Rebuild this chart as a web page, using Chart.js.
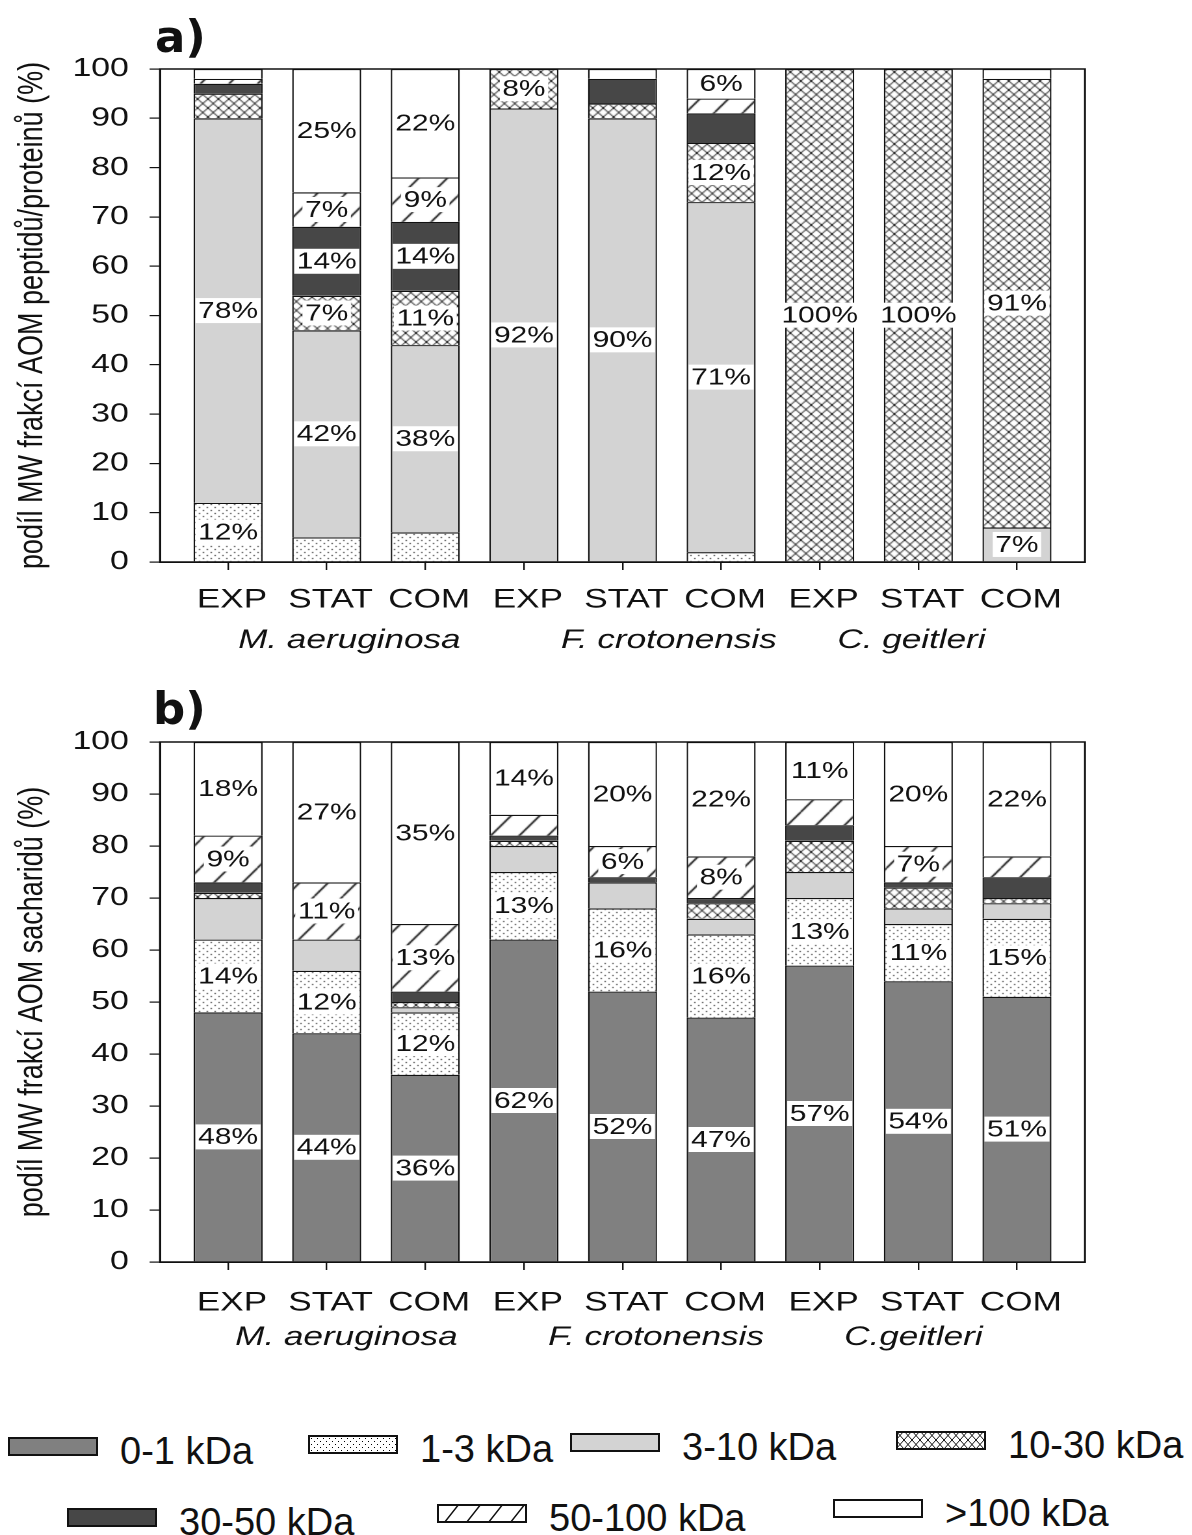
<!DOCTYPE html>
<html>
<head>
<meta charset="utf-8">
<script src="https://cdn.jsdelivr.net/npm/chart.js@4.4.1/dist/chart.umd.min.js"></script>
<style>
  body { margin: 0; background: #fff; width: 1192px; height: 1535px; position: relative; overflow: hidden; }
  .stretch { position: absolute; left: 0; width: 917px; transform: scaleX(1.3); transform-origin: 0 0; }
  .panel { position: absolute; font: bold 45px "DejaVu Sans", sans-serif; line-height: 45px; color: #111; }
  .legtext { position: absolute; font: 38px "Liberation Sans", Arial, sans-serif; line-height: 38px; color: #111; white-space: nowrap; }
  .swatch { position: absolute; }
</style>
</head>
<body>
<div class="stretch" style="top:0"><canvas id="chartA" width="917" height="680"></canvas></div>
<div class="stretch" style="top:672px"><canvas id="chartB" width="917" height="700"></canvas></div>
<div class="panel" style="left:155px;top:14px">a)</div>
<div class="panel" style="left:153px;top:686px">b)</div>
<div id="legend"></div>
<script>
// bars, left to right
const categories = ["EXP", "STAT", "COM", "EXP", "STAT", "COM", "EXP", "STAT", "COM"];
const seriesNames = ["0-1 kDa", "1-3 kDa", "3-10 kDa", "10-30 kDa", "30-50 kDa", "50-100 kDa", ">100 kDa"];

// a) peptides/proteins, % per MW fraction
const pep_0_1    = [0, 0, 0,   0, 0, 0,    0, 0, 0];
const pep_1_3    = [12, 5, 6,  0, 0, 2,    0, 0, 0];
const pep_3_10   = [78, 42, 38, 92, 90, 71, 0, 0, 7];
const pep_10_30  = [5, 7, 11,  8, 3, 12,   100, 100, 91];
const pep_30_50  = [2, 14, 14, 0, 5, 6,    0, 0, 0];
const pep_50_100 = [1, 7, 9,   0, 0, 3,    0, 0, 0];
const pep_gt100  = [2, 25, 22, 0, 2, 6,    0, 0, 2];
// which fractions carry a % label, per bar (series index)
const pepLabelled = [[1, 2], [2, 3, 4, 5, 6], [2, 3, 4, 5, 6], [2, 3], [2], [2, 3, 6], [3], [3], [2, 3]];
const pepSpecies = ["M. aeruginosa", "F. crotonensis", "C. geitleri"];

// b) saccharides
const sach_0_1    = [48, 44, 36, 62, 52, 47, 57, 54, 51];
const sach_1_3    = [14, 12, 12, 13, 16, 16, 13, 11, 15];
const sach_3_10   = [8, 6, 1,    5, 5, 3,    5, 3, 3];
const sach_10_30  = [1, 0, 1,    1, 0, 3,    6, 4, 1];
const sach_30_50  = [2, 0, 2,    1, 1, 1,    3, 1, 4];
const sach_50_100 = [9, 11, 13,  4, 6, 8,    5, 7, 4];
const sach_gt100  = [18, 27, 35, 14, 20, 22, 11, 20, 22];
const sachLabelled = [[0, 1, 5, 6], [0, 1, 5, 6], [0, 1, 5, 6], [0, 1, 6], [0, 1, 5, 6], [0, 1, 5, 6], [0, 1, 6], [0, 1, 5, 6], [0, 1, 6]];
const sachSpecies = ["M. aeruginosa", "F. crotonensis", "C.geitleri"];

const yTitleA = "podíl MW frakcí AOM peptidů/proteinů (%)";
const yTitleB = "podíl MW frakcí AOM sacharidů (%)";

Chart.defaults.font.family = '"Liberation Sans", Arial, sans-serif';
Chart.defaults.color = "#111";

const pattern = kind => {
  const c = document.createElement("canvas");
  const g = c.getContext("2d");
  const [w, h] = kind === "dots" ? [6, 6] : kind === "cross" ? [8, 9] : [22, 28];
  c.width = w; c.height = h;
  g.fillStyle = "#fff"; g.fillRect(0, 0, w, h);
  g.fillStyle = "#000"; g.strokeStyle = "#111"; g.lineWidth = kind === "cross" ? 1 : 1.4;
  if (kind === "dots") {
    g.fillRect(0, 0, 1, 1); g.fillRect(3, 3, 1, 1);
  } else {
    g.beginPath();
    for (const dx of [-w, 0, w]) {
      g.moveTo(dx, h); g.lineTo(dx + w, 0);
      if (kind === "cross") { g.moveTo(dx, 0); g.lineTo(dx + w, h); }
    }
    g.stroke();
  }
  return g.createPattern(c, "repeat");
};

const fills = ["#808080", pattern("dots"), "#d3d3d3", pattern("cross"), "#474747", pattern("hatch"), "#ffffff"];

const datasetsFor = (series, labelled) => series.map((vals, s) => ({
  label: seriesNames[s],
  data: vals.map((v, i) => ({ x: i, y: v || null })),
  showLabel: vals.map((v, i) => labelled[i].includes(s)),
  backgroundColor: fills[s],
  borderColor: "#111",
  borderWidth: 1.2,
  barPercentage: 0.7,
  categoryPercentage: 1,
}));

// white boxed % labels in the middle of a segment
const valueLabels = {
  id: "valueLabels",
  afterDatasetsDraw(chart) {
    const { ctx } = chart;
    ctx.save();
    ctx.font = '23px "Liberation Sans", Arial, sans-serif';
    ctx.textAlign = "center";
    ctx.textBaseline = "middle";
    chart.data.datasets.forEach((ds, di) => {
      chart.getDatasetMeta(di).data.forEach((bar, i) => {
        if (!ds.showLabel[i]) return;
        const txt = ds.data[i].y + "%";
        const cy = (bar.y + bar.base) / 2;
        const w = ctx.measureText(txt).width + 4;
        ctx.fillStyle = "#fff";
        ctx.fillRect(bar.x - w / 2, cy - 12.5, w, 25);
        ctx.fillStyle = "#111";
        ctx.fillText(txt, bar.x, cy + 1);
      });
    });
    ctx.restore();
  }
};

// box round the plot + species names under the ticks
const frame = {
  id: "frame",
  afterDraw(chart, args, opts) {
    const { ctx, chartArea: a } = chart;
    ctx.save();
    ctx.strokeStyle = "#111";
    ctx.lineWidth = 1.5;
    ctx.strokeRect(a.left, a.top, a.right - a.left, a.bottom - a.top);
    ctx.font = 'italic 27px "Liberation Sans", Arial, sans-serif';
    ctx.fillStyle = "#111";
    ctx.textAlign = "center";
    opts.names.forEach((n, k) => ctx.fillText(n, chart.scales.x.getPixelForValue(opts.at[k]), a.bottom + opts.dy));
    ctx.restore();
  }
};

const makeChart = (id, series, labelled, title, o) => new Chart(document.getElementById(id), {
  type: "bar",
  data: { datasets: datasetsFor(series, labelled) },
  plugins: [valueLabels, frame],
  options: {
    responsive: false,
    animation: false,
    devicePixelRatio: 2,
    layout: { padding: { top: o.top, right: 82.4, left: 0, bottom: 0 } },
    plugins: {
      legend: { display: false },
      tooltip: { enabled: false },
      frame: { names: o.species, at: o.groupAt, dy: o.groupDy },
    },
    scales: {
      x: {
        type: "linear", min: -0.69, max: 8.69, stacked: true, offset: false,
        afterBuildTicks: axis => { axis.ticks = categories.map((c, i) => ({ value: i })); },
        afterFit: axis => { axis.height = o.xHeight; },
        ticks: { autoSkip: false, maxRotation: 0, padding: o.xPad, labelOffset: 3, font: { size: 27 }, color: "#111",
                 callback: v => categories[v] },
        grid: { offset: false, drawOnChartArea: false, tickLength: 8, color: "#111", lineWidth: 1.2 },
        border: { color: "#111", width: 1.5 },
      },
      y: {
        stacked: true, min: 0, max: 100,
        afterFit: axis => { axis.width = 123.1; },
        ticks: { stepSize: 10, padding: 16, font: { size: 26 }, color: "#111" },
        grid: { drawOnChartArea: false, tickLength: 8, color: "#111", lineWidth: 1.2 },
        border: { color: "#111", width: 1.5 },
        title: { display: true, text: title, font: { size: 27 }, padding: { top: 9, bottom: 0 }, color: "#111" },
      },
    },
  },
});

makeChart("chartA", [pep_0_1, pep_1_3, pep_3_10, pep_10_30, pep_30_50, pep_50_100, pep_gt100], pepLabelled, yTitleA,
  { top: 69, xHeight: 118, xPad: 14, species: pepSpecies, groupAt: [1.23, 4.47, 6.93], groupDy: 86 });
makeChart("chartB", [sach_0_1, sach_1_3, sach_3_10, sach_10_30, sach_30_50, sach_50_100, sach_gt100], sachLabelled, yTitleB,
  { top: 70, xHeight: 110, xPad: 17, species: sachSpecies, groupAt: [1.2, 4.34, 6.95], groupDy: 83 });

// legend (two rows, as in the figure)
const legendAt = [[8, 1437], [308, 1435], [570, 1433], [896, 1431], [67, 1508], [437, 1504], [833, 1499]];
const legend = document.getElementById("legend");
seriesNames.forEach((name, s) => {
  const [lx, ly] = legendAt[s];
  const sw = document.createElement("canvas");
  sw.width = 90; sw.height = 19;
  sw.className = "swatch";
  sw.style.left = lx + "px"; sw.style.top = ly + "px";
  const g = sw.getContext("2d");
  g.fillStyle = fills[s];
  g.fillRect(0, 0, 90, 19);
  g.strokeStyle = "#111"; g.lineWidth = 2;
  g.strokeRect(1, 1, 88, 17);
  legend.appendChild(sw);
  const t = document.createElement("div");
  t.className = "legtext";
  t.style.left = (lx + 112) + "px";
  t.style.top = (ly - 5) + "px";
  t.textContent = name;
  legend.appendChild(t);
});
</script>
</body>
</html>
